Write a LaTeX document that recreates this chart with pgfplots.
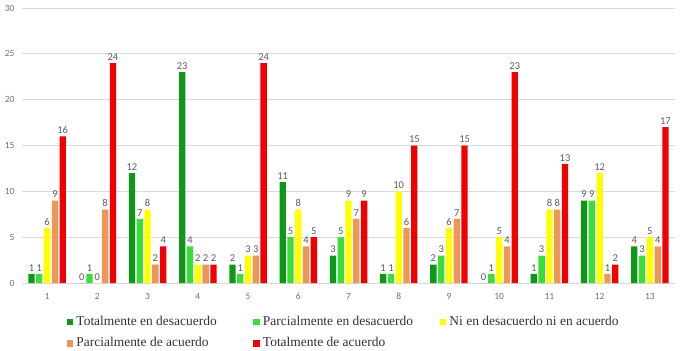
\documentclass[border=0pt]{standalone}
\usepackage{fontspec}
\setmainfont{Carlito}
\newfontfamily\timesf{Liberation Serif}
\usepackage{pgfplots}
\usepackage{pgfplotstable}
\pgfplotsset{compat=1.18}
\definecolor{dgreen}{RGB}{16,150,24}
\definecolor{lgreen}{RGB}{58,222,58}
\definecolor{yel}{RGB}{255,255,0}
\definecolor{orng}{RGB}{238,150,88}
\definecolor{red1}{RGB}{240,0,0}
\definecolor{txtgray}{RGB}{89,89,89}
\definecolor{ticgray}{RGB}{110,110,110}
\definecolor{gridgray}{RGB}{217,217,217}
\definecolor{legtext}{RGB}{50,50,50}

\pgfplotstableread{
x a b c d e
1 1 1 6 9 16
2 0 1 0 8 24
3 12 7 8 2 4
4 23 4 2 2 2
5 2 1 3 3 24
6 11 5 8 4 5
7 3 5 9 7 9
8 1 1 10 6 15
9 2 3 6 7 15
10 0 1 5 4 23
11 1 3 8 8 13
12 9 9 12 1 2
13 4 3 5 4 17
}\datatable

\newcommand{\legtxt}[1]{\makebox[174bp][l]{\timesf\fontsize{13.5}{15}\selectfont\color{legtext}#1}}

\begin{document}
\begin{tikzpicture}
\useasboundingbox (-22bp,-68bp) rectangle (659bp,283bp);
\begin{axis}[
  at={(0,0)}, anchor=south west,
  scale only axis,
  width=653bp, height=275bp,
  ybar=1.5bp, bar width=6.3bp,
  xmin=0.5, xmax=13.5,
  ymin=0, ymax=30,
  xtick={1,...,13},
  ytick={0,5,...,30},
  ymajorgrids,
  grid style={gridgray, line width=0.8bp},
  axis line style={draw=none},
  major tick length=0pt,
  tick label style={font=\fontsize{9.5}{11}\selectfont, text=ticgray},
  /pgf/number format/assume math mode=true,
  yticklabel style={xshift=-4bp},
  xticklabel style={yshift=-7bp},
  nodes near coords,
  every node near coord/.append style={font=\fontsize{10.5}{12}\selectfont, text=txtgray, inner sep=2.5bp},
  legend columns=3,
  legend style={
    draw=none, fill=none,
    at={(axis description cs:0.0689,-0.118)}, anchor=north west,
    inner sep=0pt, outer sep=0pt,
    column sep=3bp, row sep=8.5bp,
    nodes={inner sep=0pt, text height=10bp, text depth=3bp},
  },
  legend cell align=left,
  legend image code/.code={\fill[#1,draw=none] (0bp,-3.5bp) rectangle (6.5bp,3bp);},
]
\addplot[fill=dgreen, draw=none] table[x=x, y=a] {\datatable};
\addlegendentry{\legtxt{Totalmente en desacuerdo}}
\addplot[fill=lgreen, draw=none] table[x=x, y=b] {\datatable};
\addlegendentry{\legtxt{Parcialmente en desacuerdo}}
\addplot[fill=yel, draw=none] table[x=x, y=c] {\datatable};
\addlegendentry{\legtxt{Ni en desacuerdo ni en acuerdo}}
\addplot[fill=orng, draw=none] table[x=x, y=d] {\datatable};
\addlegendentry{\legtxt{Parcialmente de acuerdo}}
\addplot[fill=red1, draw=none] table[x=x, y=e] {\datatable};
\addlegendentry{\legtxt{Totalmente de acuerdo}}
\end{axis}
\end{tikzpicture}
\end{document}
